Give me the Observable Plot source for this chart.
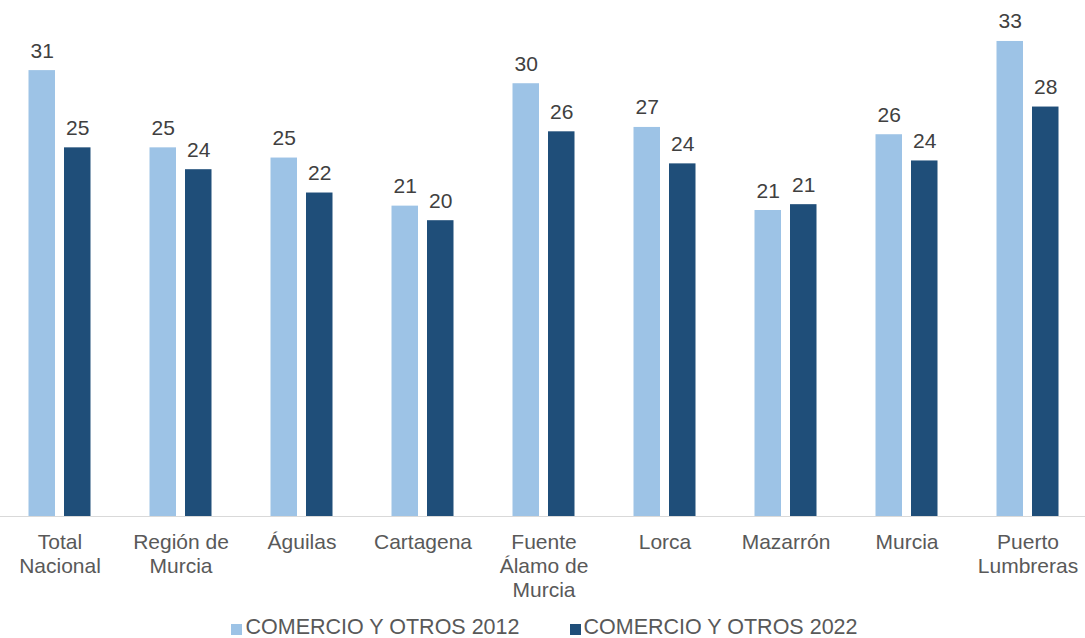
<!DOCTYPE html>
<html>
<head>
<meta charset="utf-8">
<script src="https://cdn.jsdelivr.net/npm/d3@7"></script>
<script src="https://cdn.jsdelivr.net/npm/@observablehq/plot@0.6"></script>
<style>
  html, body { margin: 0; padding: 0; background: #fff; }
  body { width: 1085px; font-family: "Liberation Sans", Arial, sans-serif; }
  #legend { display: flex; justify-content: center; gap: 50px; height: 28px; align-items: flex-end; color: #595959; font-size: 21.5px; line-height: 22px; margin-left: 4px; }
  #legend .item { display: flex; align-items: center; }
  #legend .sw { width: 11px; height: 11px; margin-right: 3px; margin-top: 5px; }
</style>
</head>
<body>
<div id="chart"></div>
<div id="legend"></div>
<script>
const categories = ["Total Nacional", "Región de Murcia", "Águilas", "Cartagena", "Fuente Álamo de Murcia", "Lorca", "Mazarrón", "Murcia", "Puerto Lumbreras"];
const tickLabels = ["Total\nNacional", "Región de\nMurcia", "Águilas", "Cartagena", "Fuente\nÁlamo de\nMurcia", "Lorca", "Mazarrón", "Murcia", "Puerto\nLumbreras"];
const series = ["COMERCIO Y OTROS 2012", "COMERCIO Y OTROS 2022"];
const values2012 = [30.6, 25.3, 24.6, 21.3, 29.7, 26.7, 21.0, 26.2, 32.6];
const values2022 = [25.3, 23.8, 22.2, 20.3, 26.4, 24.2, 21.4, 24.4, 28.1];
const colors = ["#9DC3E6", "#1F4E79"];

const rows2012 = categories.map((c, i) => ({category: c, series: series[0], value: values2012[i]}));
const rows2022 = categories.map((c, i) => ({category: c, series: series[1], value: values2022[i]}));
const labelOf = new Map(categories.map((c, i) => [c, tickLabels[i]]));
const fmt = d3.format(".0f");

// each category band is ~122px wide; the two bars sit side by side around its centre
const barW = 27.5, gap = 8;
const side = (122 - 2 * barW - gap) / 2;

const chart = Plot.plot({
  width: 1085,
  height: 610,
  marginTop: 6,
  marginBottom: 94,
  marginLeft: 0,
  marginRight: 0,
  style: {fontFamily: "'Liberation Sans', Arial, sans-serif", fontSize: "21px", color: "#595959", background: "#fff"},
  x: {domain: categories, range: [-5, 1092], padding: 0, label: null},
  y: {domain: [0, 35], axis: null},
  color: {domain: series, range: colors},
  marks: [
    Plot.barY(rows2012, {x: "category", y: "value", fill: "series", insetLeft: side, insetRight: side + barW + gap}),
    Plot.barY(rows2022, {x: "category", y: "value", fill: "series", insetLeft: side + barW + gap, insetRight: side}),
    Plot.ruleY([0], {stroke: "#d9d9d9", strokeWidth: 1.2}),
    Plot.text(rows2012, {x: "category", y: "value", text: d => fmt(d.value), dx: -(barW + gap) / 2, lineAnchor: "bottom", dy: -13, fill: "#404040", fontSize: 21}),
    Plot.text(rows2022, {x: "category", y: "value", text: d => fmt(d.value), dx: (barW + gap) / 2, lineAnchor: "bottom", dy: -13, fill: "#404040", fontSize: 21}),
    Plot.axisX({anchor: "bottom", tickSize: 0, tickPadding: 15, label: null, tickFormat: d => labelOf.get(d), lineHeight: 1.15, fontSize: 21, fill: "#595959"})
  ]
});
document.getElementById("chart").appendChild(chart);

const legend = document.getElementById("legend");
series.forEach((s, i) => {
  const item = document.createElement("div");
  item.className = "item";
  const sw = document.createElement("span");
  sw.className = "sw";
  sw.style.background = colors[i];
  const t = document.createElement("span");
  t.textContent = s;
  item.appendChild(sw);
  item.appendChild(t);
  legend.appendChild(item);
});
</script>
</body>
</html>
